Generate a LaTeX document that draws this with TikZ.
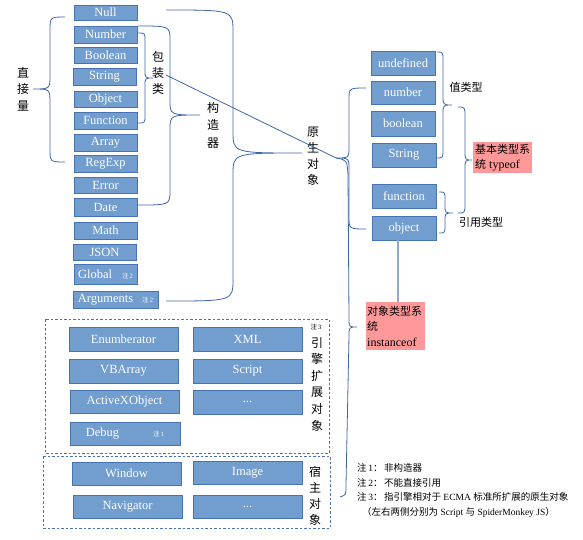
\documentclass[tikz,border=0pt]{standalone}
\usepackage{fontspec}
\setmainfont{Liberation Serif}
\newfontfamily\cjk{Noto Sans CJK SC}
\usetikzlibrary{calc}
\definecolor{bfill}{RGB}{114,157,207}
\definecolor{bdraw}{RGB}{72,115,178}
\definecolor{lcol}{RGB}{62,102,170}
\definecolor{pinkc}{RGB}{255,153,153}
\definecolor{vlinec}{RGB}{140,170,215}
\tikzset{
  bx/.style={draw=bdraw, fill=bfill, line width=0.9pt, text=white, font=\fontsize{12.5}{14}\selectfont, inner sep=0pt},
  brc/.style={draw=lcol, line width=0.8pt},
  vlabel/.style={font=\cjk\fontsize{12}{16.5}\selectfont, align=center, inner sep=0pt},
  hlabel/.style={font=\cjk\fontsize{11}{13}\selectfont, inner sep=0pt},
  note/.style={font=\fontsize{9.5}{11}\selectfont, anchor=west, inner sep=0pt},
  pinkbox/.style={fill=pinkc, inner sep=1pt, anchor=north west, align=left, font=\fontsize{12}{15.5}\selectfont},
  dbox/.style={draw=bdraw, dash pattern=on 2.5pt off 2pt, line width=0.9pt},
  vl/.style={draw=vlinec, line width=2pt}
}
\newcommand{\zhu}[1]{{\fontsize{6.5}{7}\selectfont{\cjk 注}\,#1}}
\newcommand{\bxat}[6]{\node[bx, minimum width={#4pt-#2pt}, minimum height={#5pt-#3pt}] (#1) at ({(#2+#4)/2},{(#3+#5)/2}) {#6};}
\newcommand{\mybrace}[8]{\draw[brc] (#1,#2) .. controls (#5,#2) .. (#5,{#2+#8}) -- (#5,{#7-#8}) .. controls (#5,#7) .. (#6,#7) .. controls (#5,#7) .. (#5,{#7+#8}) -- (#5,{#4-#8}) .. controls (#5,#4) .. (#3,#4);}
\begin{document}
\begin{tikzpicture}[x=1pt,y=-1pt]
\useasboundingbox (0,0) rectangle (583,539);
% left column
\bxat{null}{74}{5}{137}{20}{Null}
\bxat{number}{74}{26}{137}{43}{Number}
\bxat{boolean}{74}{47}{137}{63}{Boolean}
\bxat{string}{73}{68}{136}{85}{String}
\bxat{object}{74}{91}{137}{107}{Object}
\bxat{function}{74}{112}{137}{129}{Function}
\bxat{array}{74}{134}{137}{151}{Array}
\bxat{regexp}{74}{155}{137}{172}{RegExp}
\bxat{error}{74}{177}{137}{193}{Error}
\bxat{date}{74}{198}{137}{216}{Date}
\bxat{math}{74}{222}{137}{239}{Math}
\bxat{json}{73}{244}{136}{260}{JSON}
\bxat{global}{74}{264}{137}{284}{Global\hspace{10pt}\zhu{2}}
\bxat{arguments}{73}{291}{158}{308}{Arguments\hspace{9pt}\zhu{2}}
% type column
\bxat{tundef}{371}{51}{435}{75}{undefined}
\bxat{tnumber}{371}{81}{435}{104}{number}
\bxat{tboolean}{371}{111}{435}{136}{boolean}
\bxat{tstring}{372}{143}{436}{167}{String}
\bxat{tfunction}{372}{184}{436}{208}{function}
\bxat{tobject}{372}{216}{436}{240}{object}
% engine extension objects
\draw[dbox] (45,319) rectangle (329,453);
\draw[dbox] (43,456) rectangle (330,528);
\bxat{enum}{69}{327}{178}{351}{Enumberator}
\bxat{xml}{193}{327}{302}{351}{XML}
\bxat{vbarray}{69}{359}{178}{383}{VBArray}
\bxat{script}{193}{359}{302}{383}{Script}
\bxat{activex}{70}{390}{179}{413}{ActiveXObject}
\bxat{dotsa}{193}{390}{302}{414}{...}
\bxat{debug}{70}{422}{180}{445}{Debug\hspace{34pt}\zhu{1}}
\bxat{window}{72}{462}{181}{485}{Window}
\bxat{image}{193}{461}{302}{484}{Image}
\bxat{navigator}{73}{495}{182}{518}{Navigator}
\bxat{dotsb}{193}{495}{302}{518}{...}
% vertical labels
\node[vlabel] (zjl) at (23,89) {直\\接\\量};
\node[vlabel, font=\cjk\fontsize{12}{16}\selectfont] (bzl) at (158,73) {包\\装\\类};
\node[vlabel, font=\cjk\fontsize{12}{17.5}\selectfont] (gzq) at (213,125) {构\\造\\器};
\node[vlabel, font=\cjk\fontsize{12}{16}\selectfont] (yscx) at (313,156) {原\\生\\对\\象};
\node[inner sep=0pt] (z3) at (316,327) {\zhu{3}};
\node[vlabel, font=\cjk\fontsize{12}{16.6}\selectfont] (yqkz) at (317,384) {引\\擎\\扩\\展\\对\\象};
\node[vlabel, font=\cjk\fontsize{12}{16}\selectfont] (szdx) at (315,496) {宿\\主\\对\\象};
% horizontal labels
\node[hlabel] (zlx) at (466,87) {值类型};
\node[hlabel] (yylx) at (481,222) {引用类型};
\node[pinkbox, minimum width=59pt, minimum height=31pt] (basic) at (473,142) {{\cjk\fontsize{11}{15.5}\selectfont 基本类型系}\\{\cjk\fontsize{11}{15.5}\selectfont 统} typeof};
\node[pinkbox, minimum width=59pt, minimum height=48pt, text width=57pt] (objsys) at (366,302) {{\cjk\fontsize{11}{15.5}\selectfont 对象类型系}\\{\cjk\fontsize{11}{15.5}\selectfont 统}\\instanceof};
% braces
\mybrace{65}{17}{65}{162}{50}{33}{89}{14}
\mybrace{138}{33}{138}{123}{145}{153}{78}{8}
\mybrace{138}{26}{138}{205}{170}{200}{115}{15}
\mybrace{166}{10}{166}{301}{233}{302}{153}{22}
\mybrace{366}{88}{366}{229}{349}{336}{158}{12}
\mybrace{437}{52}{437}{158}{443}{452}{105}{10}
\mybrace{439}{192}{439}{233}{445}{453}{213}{8}
\mybrace{458}{107}{458}{213}{465}{472}{160}{10}
\coordinate (nt) at (336,158);
\coordinate (wl) at (166,75);
\draw[brc] (wl) -- (nt);
\draw[brc] (nt) .. controls (347,160) .. (348,175) -- (349,318) .. controls (349,327) .. (357,327) .. controls (349,327) .. (349,336) -- (346,485) .. controls (346,495) .. (340,497);
\coordinate (vx) at (398,0);
\draw[vl] (vx |- tobject.south) -- (vx |- objsys.north);
% notes
\node[note] (n1) at (357,468) {{\cjk 注}\,1{\cjk ：\,非构造器}};
\node[note] (n2) at (357,483) {{\cjk 注}\,2{\cjk ：\,不能直接引用}};
\node[note] (n3) at (357,497) {{\cjk 注}\,3{\cjk ：\,指引擎相对于} ECMA {\cjk 标准所扩展的原生对象}};
\node[note] (n4) at (362,512) {{\cjk （左右两侧分别为} Script {\cjk 与} SpiderMonkey JS{\cjk ）}};
\end{tikzpicture}
\end{document}
